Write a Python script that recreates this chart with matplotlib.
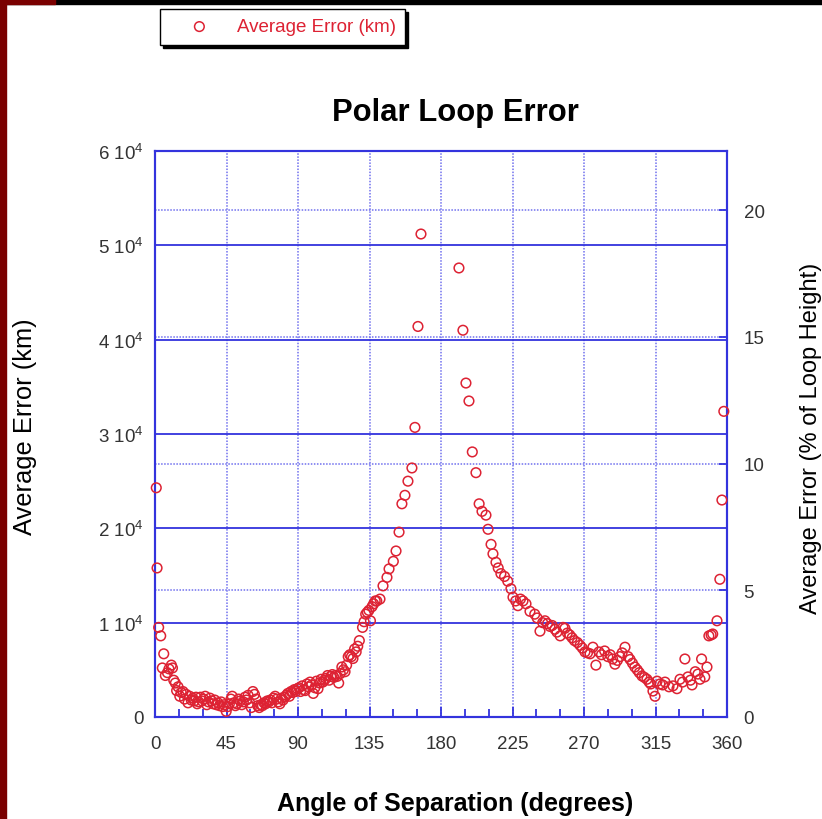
import matplotlib.pyplot as plt
from matplotlib.patches import Rectangle

plt.rcParams['font.family'] = ['Liberation Sans', 'DejaVu Sans']
plt.rcParams['mathtext.default'] = 'regular'

# angle of separation (degrees) and average error (km)
angle = [0.8, 1.3, 2.3, 3.6, 4.6, 5.5, 6.5, 7.8, 8.8, 10.3, 11.0, 11.8, 12.8, 13.6, 14.5,
         15.6, 16.5, 17.6, 18.6, 19.6, 20.8, 21.8, 22.8, 23.8, 24.8, 25.8, 26.6, 27.6, 28.6,
         29.6, 30.6, 31.6, 32.6, 33.6, 34.6, 35.6, 36.6, 37.6, 38.6, 39.6, 40.6, 41.6, 42.6,
         43.6, 44.8, 45.8, 46.8, 47.8, 48.6, 49.6, 50.6, 51.6, 52.6, 53.6, 54.6, 55.6, 56.6,
         57.6, 58.6, 59.6, 60.6, 61.6, 62.6, 63.6, 64.6, 65.6, 66.6, 67.6, 68.6, 69.6, 70.6,
         71.6, 72.6, 73.6, 74.6, 75.6, 76.6, 77.6, 78.6, 79.6, 80.6, 81.6, 82.6, 83.6, 84.6,
         85.6, 86.6, 87.6, 88.6, 89.6, 90.6, 91.6, 92.6, 93.6, 94.6, 95.6, 96.6, 97.6, 98.6,
         99.6, 100.6, 101.6, 102.6, 103.6, 104.6, 105.6, 106.6, 107.6, 108.6, 109.6, 110.6,
         111.6, 112.6, 113.6, 114.6, 115.6, 116.6, 117.6, 118.6, 119.6, 120.6, 121.6, 122.6,
         123.6, 124.6, 125.6, 126.6, 127.6, 128.6, 130.6, 131.6, 132.6, 133.6, 134.6, 135.6,
         136.6, 137.6, 138.6, 139.6, 141.6, 143.5, 146.0, 147.3, 150.0, 151.7, 153.6, 155.4,
         157.3, 159.2, 161.7, 163.6, 165.5, 167.4,
         191.3, 193.8, 195.7, 197.6, 199.7, 202.0, 204.0, 205.8, 208.3, 209.6, 211.5, 212.7,
         214.6, 216.0, 217.7, 220.0, 222.0, 224.0, 225.3, 227.0, 228.4, 230.0, 231.6, 233.5,
         236.0, 239.0, 240.5, 242.3, 244.0, 245.4, 247.0, 248.6, 250.0, 251.7, 253.0, 255.0,
         256.8, 258.0, 259.5, 261.0, 262.5, 264.0, 265.8, 267.5, 269.0, 270.6, 272.2, 273.8,
         275.6, 277.5, 279.4, 281.0, 283.0, 285.0, 286.5, 288.0, 289.5, 291.0, 292.6, 294.0,
         295.8, 297.7, 299.0, 300.5, 302.0, 303.5, 304.8, 306.5, 308.0, 309.6, 311.0, 312.0,
         313.4, 314.7, 316.0, 317.8, 319.5, 321.0, 323.5, 326.0, 328.5, 330.4, 332.0, 333.5,
         335.4, 337.0, 338.0, 340.0, 341.7, 343.0, 344.0, 346.0, 347.4, 348.6, 350.0, 351.0,
         353.7, 355.5, 356.8, 358.0]
error_km = [24300, 15800, 9500, 8600, 5200, 6700, 4400, 4700, 5100, 5500, 5200, 3900, 3600, 2800, 3200,
            2200, 2600, 2700, 1900, 2400, 1500, 2200, 1800, 2000, 1700, 2100, 1400, 1600, 2100,
            1700, 1900, 2200, 1300, 1600, 2000, 1700, 1400, 1800, 1300, 1500, 1200, 1600, 1100,
            1300, 600, 1100, 1400, 1900, 2200, 1500, 1200, 1400, 1900, 1700, 1300, 1600, 2100,
            1800, 2300, 1500, 1000, 2700, 2400, 1900, 1200, 1000, 1300, 1200, 1500, 1400, 1700,
            1600, 1800, 1500, 2000, 2200, 1900, 1600, 1400, 2000, 1800, 2100, 2300, 2500, 2200,
            2700, 2600, 2900, 2700, 3000, 3100, 2700, 3300, 2900, 2800, 3500, 3200, 3700, 3400,
            2500, 3100, 3800, 3000, 3600, 4000, 3700, 3900, 4100, 4400, 3900, 4300,
            4500, 4200, 4400, 4300, 3600, 4600, 5300, 5000, 4800, 5500, 6400, 6600,
            6400, 6200, 7200, 6900, 7500, 8100, 9500, 10100, 10900, 11100, 11300, 10200,
            11700, 12000, 12300, 12300, 12500, 13900, 14800, 15700, 16500, 17600, 19600, 22600,
            23500, 25000, 26400, 30700, 41400, 51200,
            47600, 41000, 35400, 33500, 28100, 25900, 22600, 21800, 21400, 19900, 18300, 17300,
            16400, 15800, 15200, 14900, 14400, 13600, 12700, 12300, 11800, 12500, 12300, 12000,
            11200, 10900, 10500, 9100, 10000, 10200, 9900, 9600, 9700, 9300, 9000, 8600,
            9500, 9400, 8900, 8700, 8400, 8100, 7900, 7600, 7300, 6900, 6800, 6700,
            7400, 5500, 6900, 6600, 7000, 6400, 6600, 6150, 5600, 6000, 6400, 6800,
            7400, 6400, 6100, 5700, 5300, 5000, 4700, 4350, 4200, 4000, 3700, 3500,
            2750, 2200, 3800, 3500, 3400, 3700, 3200, 3300, 3000, 4000, 3700, 6150,
            4250, 3900, 3400, 4800, 4550, 4000, 6150, 4250, 5300, 8600, 8700, 8800,
            10200, 14600, 23000, 32400]

x_ticks = [0, 45, 90, 135, 180, 225, 270, 315, 360]
y_ticks = [0, 10000, 20000, 30000, 40000, 50000, 60000]
y_labels = ['0', '1 10$^{4}$', '2 10$^{4}$', '3 10$^{4}$', '4 10$^{4}$', '5 10$^{4}$', '6 10$^{4}$']
pct_ticks = [0, 5, 10, 15, 20]

blue = '#3333dd'
dot_blue = '#7070ee'
red = '#dd2233'

fig = plt.figure(figsize=(8.22, 8.20), dpi=100)
# dark frame strips from the screenshot
fig.patches.append(Rectangle((0, 1 - 5 / 820), 1, 5 / 820, transform=fig.transFigure, color='black', zorder=0))
fig.patches.append(Rectangle((0, 0), 6 / 822, 1, transform=fig.transFigure, color='#7a0000', zorder=0))
fig.patches.append(Rectangle((0, 1 - 5 / 820), 55 / 822, 5 / 820, transform=fig.transFigure, color='#7a0000', zorder=0))

ax = fig.add_axes([155 / 822, 1 - 718 / 820, 572 / 822, 566 / 820])
ax2 = ax.twinx()
ax.set_zorder(ax2.get_zorder() + 1)
ax.patch.set_visible(False)

sc = ax.scatter(angle, error_km, s=48, facecolors='none', edgecolors=red, linewidths=1.1,
                label='Average Error (km)', clip_on=False, zorder=3)

ax.set_xlim(0, 360)
ax.set_ylim(0, 60000)
ax.set_xticks(x_ticks)
ax.set_xticks(range(0, 361, 15), minor=True)
ax.set_yticks(y_ticks)
ax.set_yticklabels(y_labels)
ax.grid(axis='y', color=blue, lw=1.3, ls='-')
ax.grid(axis='x', color=dot_blue, lw=1.1, ls=(0, (1, 1)))
ax.tick_params(axis='both', which='both', direction='in', color=blue, width=1.3)
ax.tick_params(axis='x', which='major', length=7, pad=13, labelsize=13.5, labelcolor='#333333')
ax.tick_params(axis='x', which='minor', length=6)
ax.tick_params(axis='y', length=0, pad=8, labelsize=13.5, labelcolor='#333333')

ax2.set_ylim(0, 22.33)
ax2.set_yticks(pct_ticks)
ax2.grid(axis='y', color=dot_blue, lw=1.1, ls=(0, (1, 1)))
ax2.tick_params(axis='y', direction='in', color=blue, width=1.3, length=6, pad=12,
                labelsize=13.5, labelcolor='#333333')

for a in (ax, ax2):
    for s in a.spines.values():
        s.set_color(blue)
        s.set_linewidth(1.5)

fig.text(455 / 822, 1 - 113 / 820, 'Polar Loop Error', ha='center', va='center',
         fontsize=22.3, fontweight='bold')
fig.text(455 / 822, 1 - 804 / 820, 'Angle of Separation (degrees)', ha='center', va='center',
         fontsize=18, fontweight='bold')
fig.text(25 / 822, 1 - 427 / 820, 'Average Error (km)', ha='center', va='center',
         rotation=90, fontsize=18.4)
fig.text(811 / 822, 1 - 438 / 820, 'Average Error (% of Loop Height)', ha='center', va='center',
         rotation=90, fontsize=17)

fig.legend(handles=[sc], loc='upper left', bbox_to_anchor=(160 / 822, 1 - 10 / 820),
           frameon=True, fancybox=False, shadow={'color': 'black', 'alpha': 1},
           edgecolor='black', fontsize=13.5, labelcolor=red, handlelength=3.2,
           handletextpad=0.4, borderpad=0.5, borderaxespad=0, framealpha=1)

fig.savefig('out.png', dpi=100)
